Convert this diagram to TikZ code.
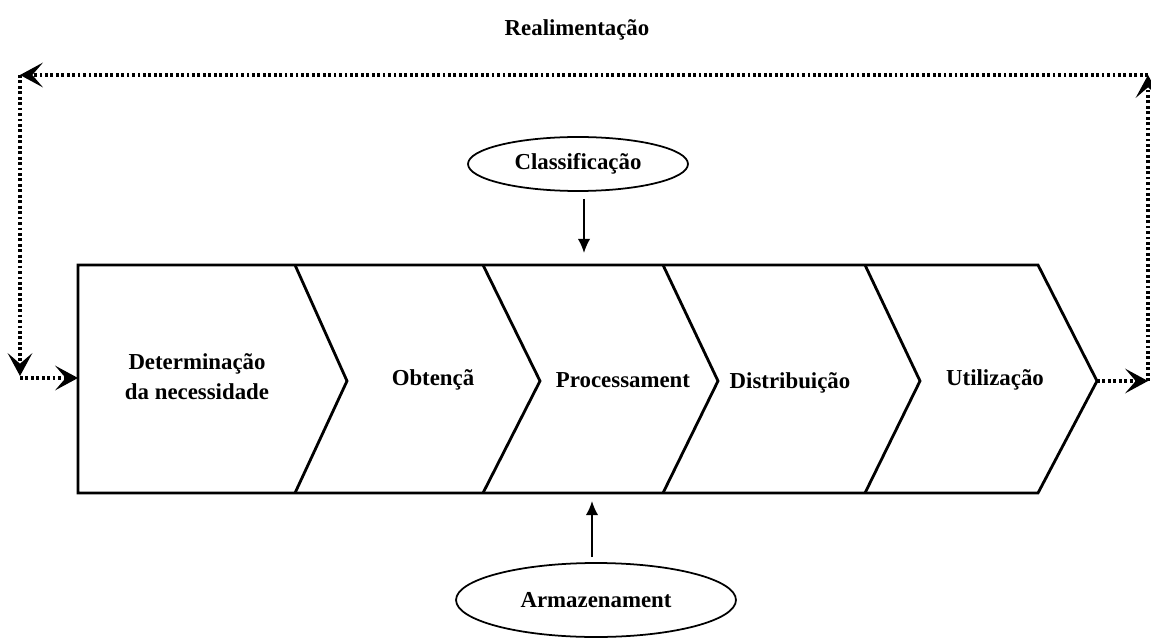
\documentclass[tikz,border=0pt]{standalone}
\usepackage{fontspec}
\setmainfont{Liberation Serif}
\usetikzlibrary{arrows.meta,shapes.geometric}

\tikzset{
  stage/.style={font=\bfseries\fontsize{13}{17}\selectfont, align=center},
  phase/.style={draw, ellipse, line width=1pt, inner sep=0pt,
    font=\bfseries\fontsize{13}{17}\selectfont},
  feed/.style={line width=1.9pt, dash pattern=on 1.6pt off 1.5pt,
    -{Stealth[length=13pt,width=14pt,inset=6pt]}},
  flow/.style={line width=0.9pt, -{Latex[length=8pt,width=7pt]}},
  band/.style={line width=1.6pt, line join=miter}
}

\begin{document}
\begin{tikzpicture}[x=0.02cm,y=-0.02cm]
  \useasboundingbox (0,0) rectangle (1151,638);

  % chevron band
  \draw[band] (78,265) -- (1038,265) -- (1097,381) -- (1038,493) -- (78,493) -- cycle;
  \draw[band] (295,265) -- (347,381) -- (295,493);
  \draw[band] (483,265) -- (540,381) -- (483,493);
  \draw[band] (663,265) -- (718,381) -- (663,493);
  \draw[band] (865,265) -- (920,381) -- (865,493);

  \node[stage] (need) at (197,377) {Determinação\\da necessidade};
  \node[stage] (obt)  at (433,380) {Obtençã};
  \node[stage] (proc) at (623,380) {Processament};
  \node[stage] (dist) at (790,383) {Distribuição};
  \node[stage] (util) at (995,380) {Utilização};

  \node[phase, minimum width=4.4cm, minimum height=1.08cm] (class) at (578,164) {Classificação};
  \node[phase, minimum width=5.6cm, minimum height=1.48cm] (arm) at (596,600) {Armazenament};
  \node[stage] (feedlbl) at (577,30) {Realimentação};

  \coordinate (intop) at (584,253);
  \coordinate (inbot) at (592,501);
  \draw[flow] (class.south -| intop) ++(0,7) -- (intop);
  \draw[flow] (arm.north -| inbot) ++(0,-5) -- (inbot);

  % feedback loop
  \coordinate (apex) at (1097,381);
  \coordinate (outr) at (1148,381);
  \coordinate (topr) at (1148,75);
  \coordinate (topl) at (20,75);
  \coordinate (botl) at (20,376);
  \coordinate (entry) at (78,378);
  \draw[feed] (apex) -- (outr);
  \draw[feed] (outr) -- (topr);
  \draw[feed] (topr) -- (topl);
  \draw[feed] (topl) -- (botl);
  \draw[feed] (botl |- entry) -- (entry);
\end{tikzpicture}
\end{document}
